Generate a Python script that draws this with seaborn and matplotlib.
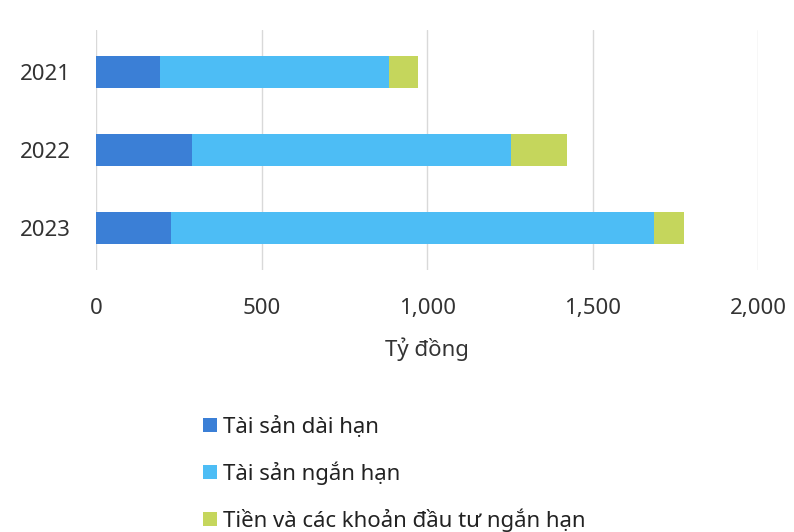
import matplotlib
matplotlib.use("Agg")
import matplotlib.pyplot as plt
from matplotlib.patches import Patch
import seaborn as sns
import pandas as pd

# Asset structure by year (billion VND)
years = ["2021", "2022", "2023"]
tai_san_dai_han = [193, 290, 226]
tai_san_ngan_han = [693, 964, 1459]
tien_va_dau_tu = [87, 169, 91]

series_labels = ["Tài sản dài hạn", "Tài sản ngắn hạn", "Tiền và các khoản đầu tư ngắn hạn"]
colors = ["#3b7fd6", "#4dbdf5", "#c5d65c"]
x_ticks = [0, 500, 1000, 1500, 2000]
x_label = "Tỷ đồng"

sns.set_theme(style="white")
plt.rcParams["font.family"] = ["Noto Sans", "DejaVu Sans"]

df = pd.DataFrame({
    "year": years,
    "dai_han": tai_san_dai_han,
    "ngan_han": tai_san_ngan_han,
    "tien": tien_va_dau_tu,
})
df["cum1"] = df["dai_han"]
df["cum2"] = df["cum1"] + df["ngan_han"]
df["cum3"] = df["cum2"] + df["tien"]

fig = plt.figure(figsize=(7.94, 5.32), dpi=100)
ax = fig.add_axes([0.121, 0.492, 0.834, 0.452])

# Stacked bars: draw cumulative totals from the outermost layer inward
for col, color in zip(["cum3", "cum2", "cum1"], colors[::-1]):
    sns.barplot(data=df, x=col, y="year", orient="h", color=color,
                width=0.42, ax=ax, saturation=1, linewidth=0, order=years)

ax.set_xlim(0, 2000)
ax.set_ylim(2.54, -0.54)
ax.set_xticks(x_ticks)
ax.set_xticklabels([f"{v:,}" for v in x_ticks])
ax.grid(axis="x", color="#d9d9d9", linewidth=1)
ax.set_axisbelow(True)
for s in ax.spines.values():
    s.set_visible(False)
ax.tick_params(axis="x", length=0, pad=20, labelsize=16, labelcolor="#333333")
ax.tick_params(axis="y", length=0, pad=18, labelsize=16, labelcolor="#333333")
ax.set_ylabel("")
ax.set_xlabel(x_label, fontsize=16, color="#333333", labelpad=13)

handles = [Patch(facecolor=c, edgecolor="none") for c in colors]
fig.legend(handles, series_labels, loc="upper left",
           bbox_to_anchor=(0.245, 1 - 407 / 532), frameon=False, fontsize=16,
           labelspacing=1.05, handlelength=0.6, handleheight=0.6,
           handletextpad=0.3, labelcolor="#222222", borderaxespad=0)

fig.savefig("out.png", dpi=100)
